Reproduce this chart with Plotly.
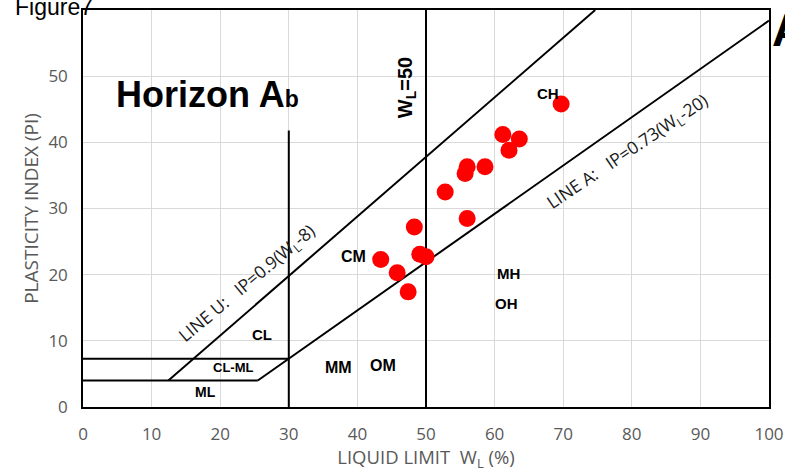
import plotly.graph_objects as go

# Liquid limit (%) and plasticity index of the samples
wl = [69.7, 61.2, 63.6, 62.1, 56.0, 55.7, 58.6, 52.8, 56.0, 48.3, 49.1, 50.0, 43.4, 45.8, 47.4]
pi = [45.8, 41.2, 40.5, 38.8, 36.3, 35.3, 36.3, 32.5, 28.5, 27.2, 23.1, 22.7, 22.3, 20.3, 17.4]

x_ticks = [0, 10, 20, 30, 40, 50, 60, 70, 80, 90, 100]
y_ticks = [0, 10, 20, 30, 40, 50, 60]

# Chart boundary definitions
U_SLOPE, U_OFFSET = 0.9, 8      # Line U: IP = 0.9 (WL - 8)
A_SLOPE, A_OFFSET = 0.73, 20    # Line A: IP = 0.73 (WL - 20)
PI_LOW = 4                      # lower limit of the CL-ML band
PI_MAX = 60
WL_LOW_SPLIT, WL_HIGH_SPLIT = 30, 50
PI_SPLIT30_TOP = 41.8

# Plot area geometry in pixels (used to place page-level labels)
W, H = 785, 472
ML_, MR_, MT_, MB_ = 83, 16, 10, 65
PW, PH = W - ML_ - MR_, H - MT_ - MB_

fig = go.Figure()

line_style = dict(color="black", width=2)

def add_line(xs, ys):
    fig.add_trace(go.Scatter(x=xs, y=ys, mode="lines", line=line_style,
                             hoverinfo="skip", showlegend=False))

# Line U, from the lower band up to the top of the chart
u_x0 = PI_LOW / U_SLOPE + U_OFFSET
u_x1 = PI_MAX / U_SLOPE + U_OFFSET
add_line([u_x0, u_x1], [PI_LOW, PI_MAX])

# Line A, from the lower band to WL = 100
a_x0 = PI_LOW / A_SLOPE + A_OFFSET
add_line([a_x0, 100], [PI_LOW, A_SLOPE * (100 - A_OFFSET)])

# Horizontal CL-ML band limits
pi_high = A_SLOPE * (WL_LOW_SPLIT - A_OFFSET)
add_line([0, a_x0], [PI_LOW, PI_LOW])
add_line([0, WL_LOW_SPLIT], [pi_high, pi_high])

# Vertical divisions
add_line([WL_LOW_SPLIT, WL_LOW_SPLIT], [0, PI_SPLIT30_TOP])
add_line([WL_HIGH_SPLIT, WL_HIGH_SPLIT], [0, PI_MAX])

# Samples
fig.add_trace(go.Scatter(x=wl, y=pi, mode="markers",
                         marker=dict(color="#ff0000", size=17, line=dict(width=0)),
                         showlegend=False))

bold = dict(family="Liberation Sans", color="black")
thin = dict(family="Open Sans", color="#1a1a1a")

def label(x, y, text, size=15, angle=0, fam=None, weight="bold"):
    f = dict(bold if fam is None else fam)
    f["size"] = size
    if weight == "bold":
        text = "<b>" + text + "</b>"
    fig.add_annotation(x=x, y=y, xref="x", yref="y", text=text, showarrow=False,
                       textangle=angle, font=f, xanchor="center", yanchor="middle")

label(18.1, 47.2, "Horizon A<span style='font-size:23px'>b</span>", size=36)
label(47.1, 48.2, "W<sub>L</sub>=50", size=20, angle=-90)
label(67.8, 47.4, "CH", size=15)
label(39.5, 22.7, "CM", size=16)
label(62.0, 20.2, "MH", size=15)
label(61.7, 15.6, "OH", size=15)
label(26.1, 11.0, "CL", size=15)
label(21.9, 5.9, "CL-ML", size=13)
label(37.3, 6.0, "MM", size=16)
label(43.7, 6.3, "OM", size=16)
label(17.8, 2.3, "ML", size=14)

label(24.0, 18.6, "LINE U:&nbsp;&nbsp; IP=0.9(W<sub>L</sub>-8)", size=17.5, angle=-40,
      fam=thin, weight="normal")
label(79.3, 38.5, "LINE A:&nbsp;&nbsp; IP=0.73(W<sub>L</sub>-20)", size=17.5, angle=-34,
      fam=thin, weight="normal")

# Page furniture: figure caption and panel letter
fig.add_annotation(x=(13 - ML_) / PW, y=(H - MB_ - 7) / PH, xref="paper", yref="paper",
                   text="Figure7", showarrow=False, xanchor="left", yanchor="middle",
                   font=dict(family="Liberation Sans", size=23, color="black"))
fig.add_annotation(x=(788 - ML_) / PW, y=(H - MB_ - 30) / PH, xref="paper", yref="paper",
                   text="<b>A</b>", showarrow=False, xanchor="center", yanchor="middle",
                   font=dict(family="Liberation Sans", size=46, color="black"))

tick_font = dict(family="Open Sans", size=17, color="#595959")

fig.update_layout(
    width=W, height=H,
    margin=dict(l=ML_, r=MR_, t=MT_, b=MB_),
    plot_bgcolor="white", paper_bgcolor="white",
    xaxis=dict(range=[0, 100], tickvals=x_ticks, showgrid=True, gridcolor="#d9d9d9",
               gridwidth=1, zeroline=False, showline=True, linecolor="black",
               linewidth=1.5, mirror=True, ticks="", tickfont=tick_font,
               ticklabelstandoff=11, automargin=False,
               title=dict(text="LIQUID LIMIT&nbsp; W<sub>L</sub> (%)", standoff=8,
                          font=dict(family="Open Sans", size=18.5, color="#595959"))),
    yaxis=dict(range=[0, 60], tickvals=y_ticks, showgrid=True, gridcolor="#d9d9d9",
               gridwidth=1, zeroline=False, showline=True, linecolor="black",
               linewidth=1.5, mirror=True, ticks="", tickfont=tick_font,
               ticklabelstandoff=10, automargin=False,
               title=dict(text="PLASTICITY INDEX (PI)", standoff=5,
                          font=dict(family="Open Sans", size=19, color="#595959"))),
)

fig.write_html("out.html")
